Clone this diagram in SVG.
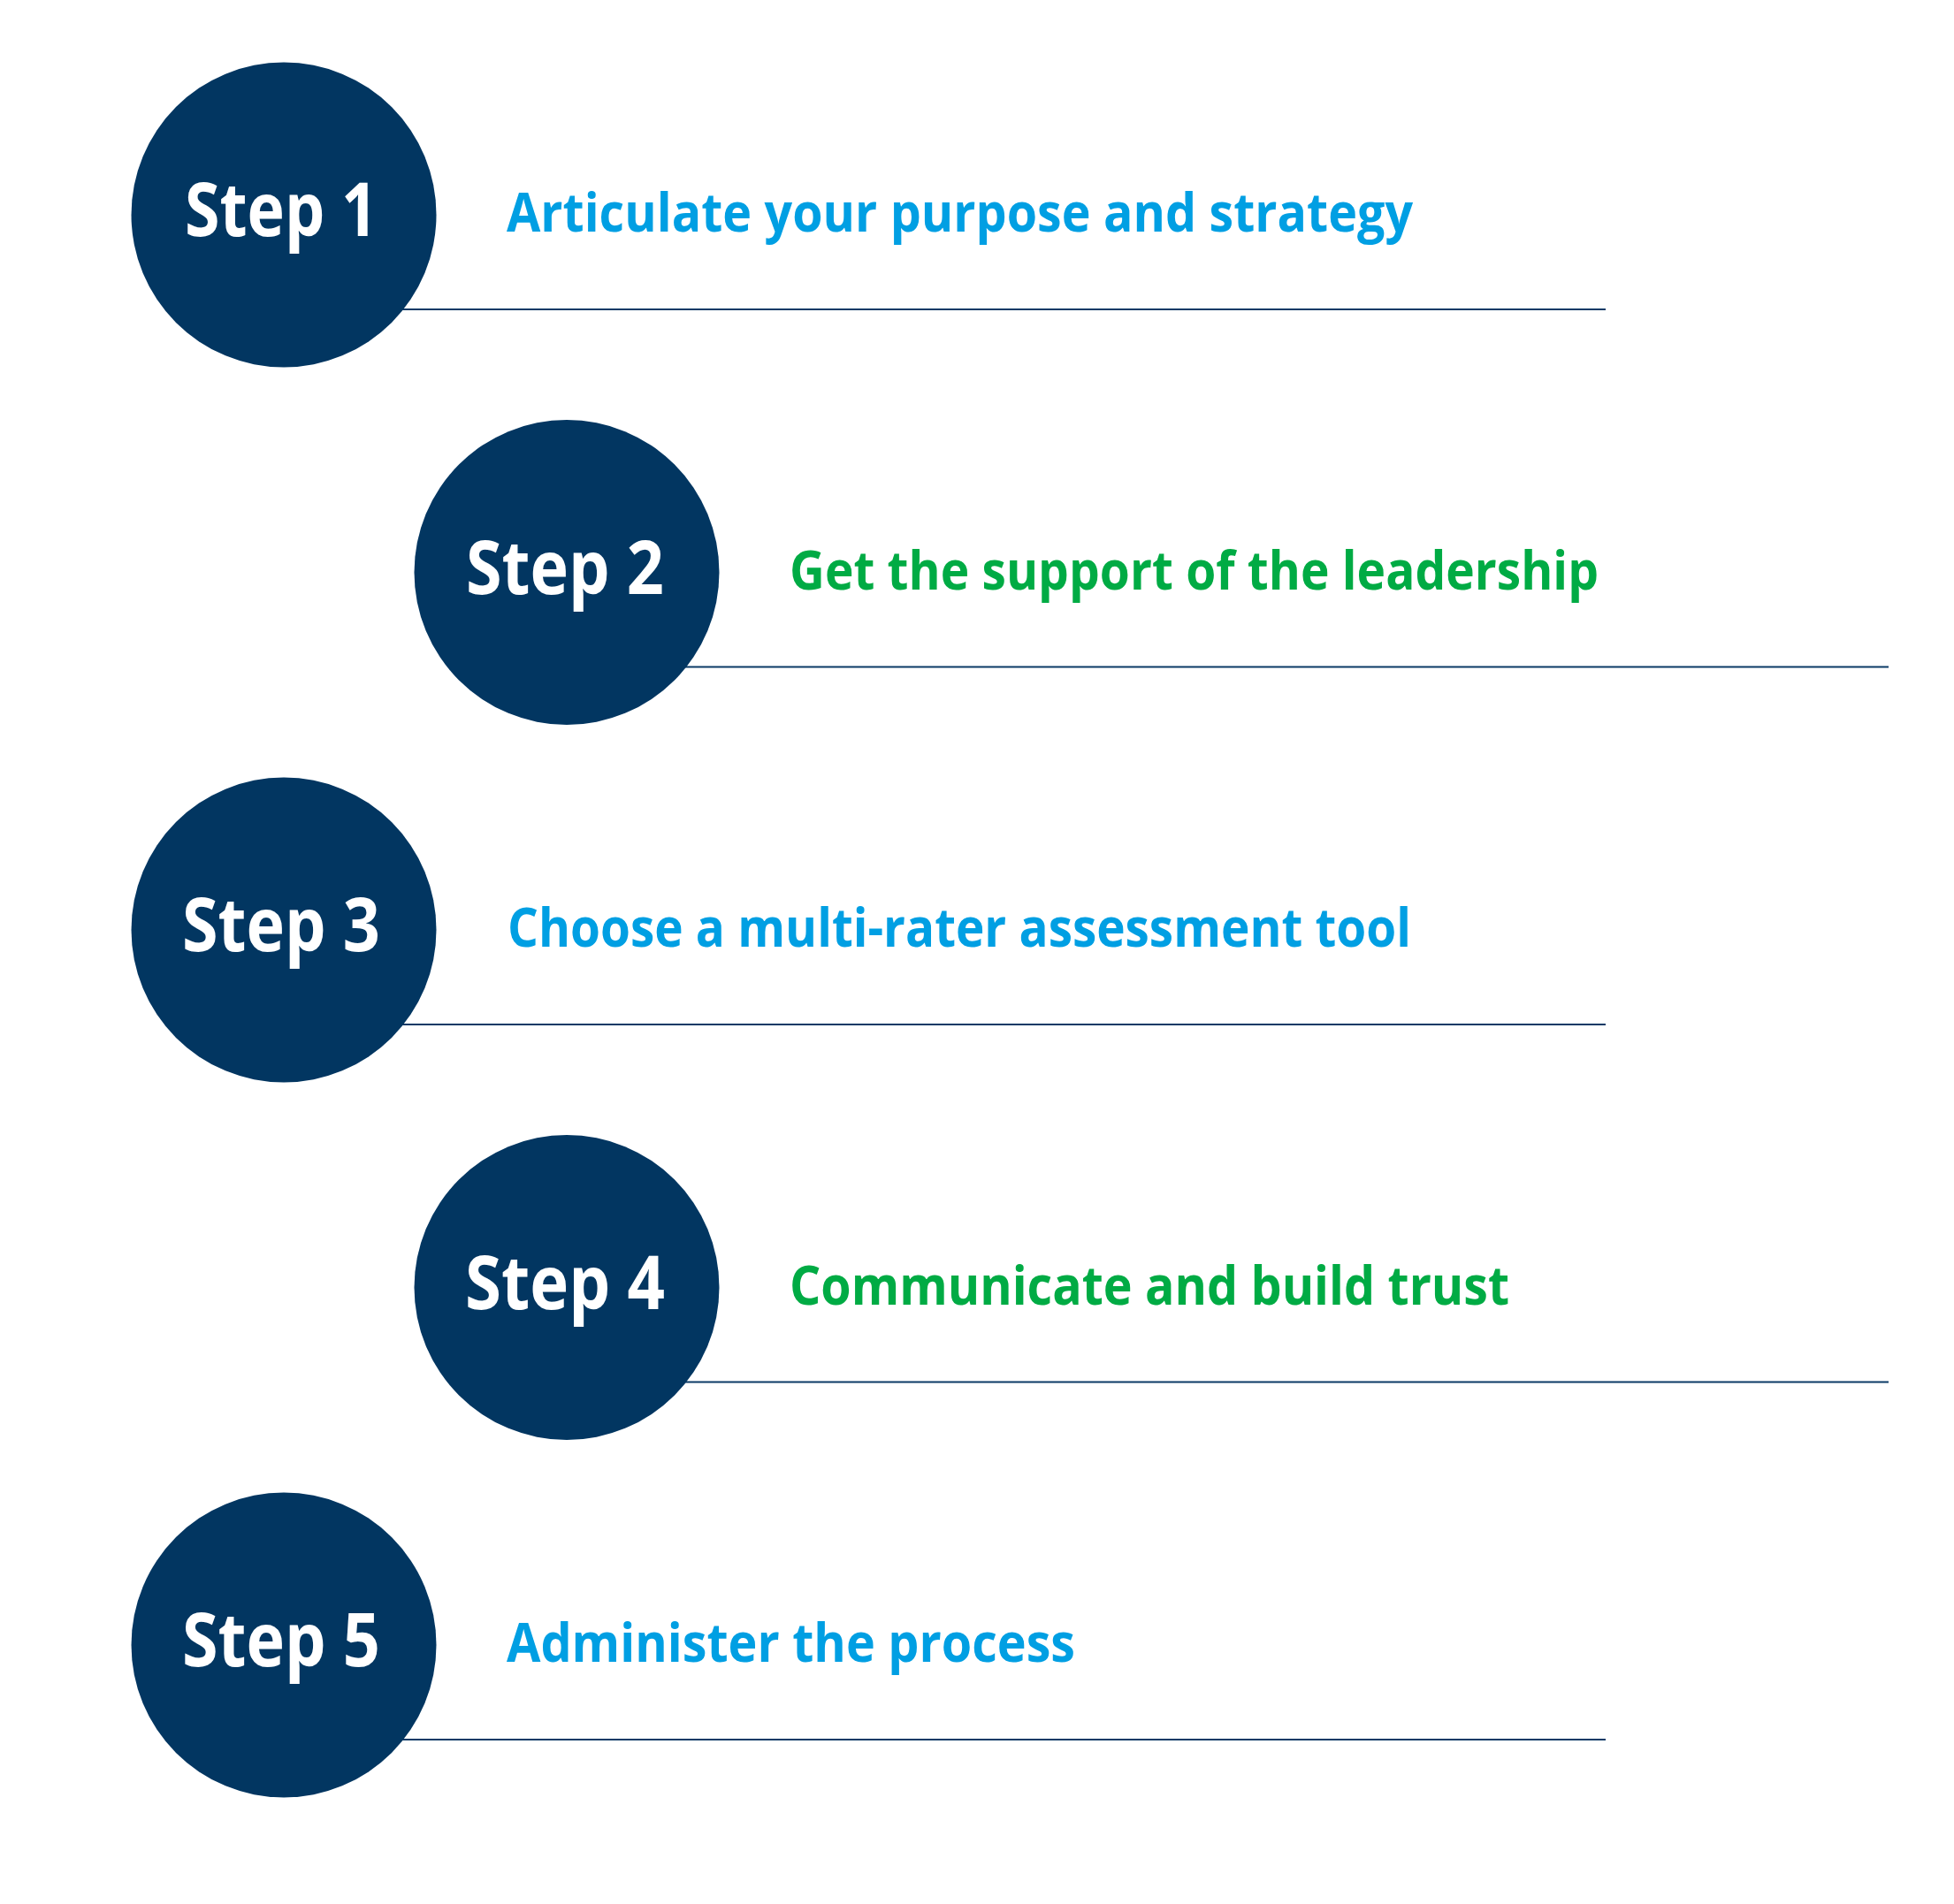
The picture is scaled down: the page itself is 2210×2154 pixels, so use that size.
<svg xmlns="http://www.w3.org/2000/svg" width="2210" height="2154" viewBox="0 0 2210 2154">
<style>
.bg{fill:#ffffff}
.rule{stroke:#0b3a66;stroke-width:2.2;fill:none}
.circ{fill:#023661}
.step{font-family:"Open Sans","Noto Sans","Liberation Sans",sans-serif;font-weight:700;font-size:84px;fill:#ffffff;text-anchor:middle}
.lbl{font-family:"Open Sans","Noto Sans","Liberation Sans",sans-serif;font-weight:700;font-size:61px}
.blue{fill:#009FE3}
.green{fill:#00AB44}
</style>
<rect class="bg" x="0" y="0" width="2210" height="2154"/>
<g id="connectors">
<line class="rule" x1="400" y1="350" x2="1816" y2="350"/>
<line class="rule" x1="720" y1="754.5" x2="2136" y2="754.5"/>
<line class="rule" x1="400" y1="1159" x2="1816" y2="1159"/>
<line class="rule" x1="720" y1="1563.5" x2="2136" y2="1563.5"/>
<line class="rule" x1="400" y1="1968" x2="1816" y2="1968"/>
</g>
<g id="step1">
<circle class="circ" cx="321" cy="243" r="172.5"/>
<text class="step" x="318" y="267" textLength="218" lengthAdjust="spacingAndGlyphs">Step 1</text>
<text class="lbl blue" x="573" y="262" textLength="1025" lengthAdjust="spacingAndGlyphs">Articulate your purpose and strategy</text>
</g>
<g id="step2">
<circle class="circ" cx="641" cy="647.5" r="172.5"/>
<text class="step" x="639" y="672" textLength="224" lengthAdjust="spacingAndGlyphs">Step 2</text>
<text class="lbl green" x="893" y="667" textLength="915" lengthAdjust="spacingAndGlyphs">Get the support of the leadership</text>
</g>
<g id="step3">
<circle class="circ" cx="321" cy="1052" r="172.5"/>
<text class="step" x="318" y="1076" textLength="224" lengthAdjust="spacingAndGlyphs">Step 3</text>
<text class="lbl blue" x="574" y="1071" textLength="1022" lengthAdjust="spacingAndGlyphs">Choose a multi-rater assessment tool</text>
</g>
<g id="step4">
<circle class="circ" cx="641" cy="1456.5" r="172.5"/>
<text class="step" x="639" y="1481" textLength="226" lengthAdjust="spacingAndGlyphs">Step 4</text>
<text class="lbl green" x="893" y="1476" textLength="814" lengthAdjust="spacingAndGlyphs">Communicate and build trust</text>
</g>
<g id="step5">
<circle class="circ" cx="321" cy="1861" r="172.5"/>
<text class="step" x="318" y="1885" textLength="224" lengthAdjust="spacingAndGlyphs">Step 5</text>
<text class="lbl blue" x="573" y="1880" textLength="643" lengthAdjust="spacingAndGlyphs">Administer the process</text>
</g>
</svg>
